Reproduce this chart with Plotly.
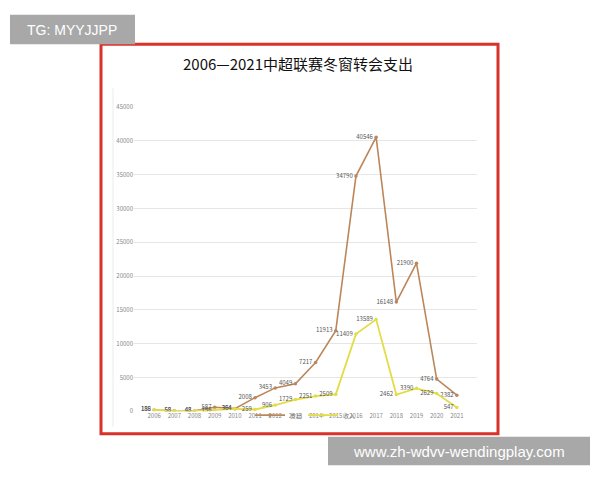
import plotly.graph_objects as go

years = [str(y) for y in range(2006, 2022)]
expense = [188, 58, 48, 587, 384, 2008, 3453, 4049, 7217, 11913, 34790, 40546, 16148, 21900, 4764, 2382]
income = [186, 58, 48, 156, 364, 259, 906, 1729, 2251, 2509, 11409, 13589, 2462, 3390, 2629, 547]
series_names = ["支出", "收入"]
title_text = "2006—2021中超联赛冬窗转会支出"
y_ticks = [0, 5000, 10000, 15000, 20000, 25000, 30000, 35000, 40000, 45000]

W, H = 600, 480
def px(x):
    return x / W
def py(y):
    return 1 - y / H

BROWN = "#bc865b"
YELLOW = "#e4dc46"
FONT = "Noto Sans CJK SC, Noto Sans, sans-serif"

fig = go.Figure()
fig.add_trace(go.Scatter(
    x=years, y=expense, name=series_names[0],
    mode="lines+markers+text",
    line=dict(color=BROWN, width=1.6),
    marker=dict(size=3.5, color=BROWN),
    text=[str(v) for v in expense], textposition="middle left",
    textfont=dict(size=6, color="#555555"),
))
fig.add_trace(go.Scatter(
    x=years, y=income, name=series_names[1],
    mode="lines+markers+text",
    line=dict(color=YELLOW, width=1.8),
    marker=dict(size=3.5, color=YELLOW),
    text=[str(v) for v in income], textposition="middle left",
    textfont=dict(size=6, color="#555555"),
))

shapes = [
    dict(type="rect", xref="paper", yref="paper",
         x0=px(101), x1=px(498), y0=py(437), y1=py(40),
         line=dict(color="#d8322a", width=3), fillcolor="rgba(0,0,0,0)", layer="above"),
    dict(type="line", xref="paper", yref="paper",
         x0=px(113), x1=px(113), y0=py(430), y1=py(85),
         line=dict(color="#ebebeb", width=1), layer="below"),
    dict(type="rect", xref="paper", yref="paper",
         x0=px(10), x1=px(135), y0=py(40), y1=py(10),
         line=dict(width=0), fillcolor="#a8a8a8", layer="above"),
    dict(type="rect", xref="paper", yref="paper",
         x0=px(328), x1=px(590), y0=py(469), y1=py(440),
         line=dict(width=0), fillcolor="#a8a8a8", layer="above"),
]

annotations = [
    dict(text=title_text, xref="paper", yref="paper", x=px(298), y=py(60),
         showarrow=False, font=dict(size=15, color="#111111", family=FONT),
         xanchor="center", yanchor="middle"),
    dict(text="TG: MYYJJPP", xref="paper", yref="paper", x=px(72), y=py(25),
         showarrow=False, font=dict(size=14, color="white", family="Liberation Sans, Arial, sans-serif"),
         xanchor="center", yanchor="middle"),
    dict(text="www.zh-wdvv-wendingplay.com", xref="paper", yref="paper", x=px(459), y=py(455),
         showarrow=False, font=dict(size=15, color="white", family="Liberation Sans, Arial, sans-serif"),
         xanchor="center", yanchor="middle"),
]

fig.update_layout(
    width=W, height=H,
    margin=dict(l=0, r=0, t=0, b=0),
    paper_bgcolor="white", plot_bgcolor="white",
    font=dict(family=FONT, size=6, color="#888888"),
    showlegend=True,
    legend=dict(orientation="h", x=px(250), y=py(418), xanchor="left", yanchor="middle",
                font=dict(size=6, color="#777777"), bgcolor="rgba(0,0,0,0)",
                itemwidth=30, entrywidth=8, entrywidthmode="pixels", tracegroupgap=0),
    xaxis=dict(domain=[px(134), px(477)], type="category",
               showgrid=False, showline=False, zeroline=False, ticks="",
               tickfont=dict(size=6, color="#888888")),
    yaxis=dict(domain=[py(414), py(104)], range=[0, 45000],
               tickvals=y_ticks, ticktext=[str(v) for v in y_ticks],
               showgrid=True, gridcolor="#e6e6e6", gridwidth=1,
               showline=False, zeroline=False, ticks="",
               tickfont=dict(size=6, color="#888888")),
    shapes=shapes,
    annotations=annotations,
)

fig.write_html("out.html", config={"displayModeBar": False},
               post_script="document.body.style.margin='0';document.body.style.overflow='hidden';")
